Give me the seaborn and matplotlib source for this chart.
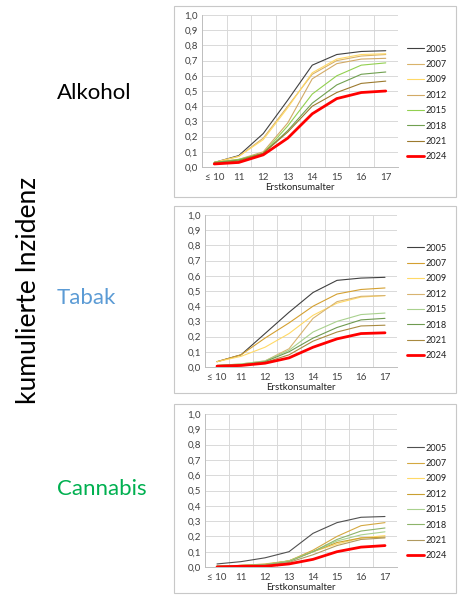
import numpy as np
import pandas as pd
import matplotlib
matplotlib.use("Agg")
import matplotlib.pyplot as plt
from matplotlib.patches import Rectangle
from matplotlib.ticker import FixedLocator
import seaborn as sns

sns.set_style("white")
plt.rcParams['font.family'] = ['Lato', 'DejaVu Sans']

# ---------------- data ----------------
ages = ["≤ 10", "11", "12", "13", "14", "15", "16", "17"]
years = ["2005", "2007", "2009", "2012", "2015", "2018", "2021", "2024"]

alkohol = [
    [0.03, 0.075, 0.22, 0.44, 0.67, 0.74, 0.76, 0.765],
    [0.03, 0.07, 0.19, 0.40, 0.61, 0.70, 0.73, 0.74],
    [0.03, 0.07, 0.18, 0.39, 0.62, 0.71, 0.74, 0.745],
    [0.03, 0.05, 0.10, 0.29, 0.58, 0.68, 0.71, 0.715],
    [0.03, 0.05, 0.09, 0.27, 0.48, 0.60, 0.67, 0.685],
    [0.03, 0.045, 0.09, 0.24, 0.42, 0.54, 0.61, 0.625],
    [0.025, 0.04, 0.09, 0.23, 0.40, 0.49, 0.55, 0.565],
    [0.02, 0.03, 0.08, 0.19, 0.35, 0.45, 0.49, 0.50],
]
tabak = [
    [0.035, 0.08, 0.22, 0.36, 0.49, 0.57, 0.585, 0.59],
    [0.035, 0.08, 0.19, 0.29, 0.40, 0.48, 0.51, 0.52],
    [0.035, 0.07, 0.13, 0.22, 0.34, 0.42, 0.46, 0.47],
    [0.01, 0.02, 0.04, 0.12, 0.32, 0.43, 0.465, 0.47],
    [0.01, 0.02, 0.04, 0.11, 0.23, 0.30, 0.345, 0.355],
    [0.01, 0.015, 0.035, 0.10, 0.19, 0.26, 0.31, 0.32],
    [0.01, 0.015, 0.03, 0.08, 0.17, 0.23, 0.27, 0.275],
    [0.005, 0.01, 0.025, 0.06, 0.13, 0.185, 0.22, 0.225],
]
cannabis = [
    [0.02, 0.035, 0.06, 0.10, 0.22, 0.29, 0.325, 0.33],
    [0.005, 0.01, 0.02, 0.04, 0.11, 0.20, 0.27, 0.29],
    [0.005, 0.01, 0.015, 0.04, 0.10, 0.15, 0.19, 0.205],
    [0.005, 0.01, 0.015, 0.04, 0.10, 0.16, 0.19, 0.195],
    [0.005, 0.01, 0.015, 0.04, 0.10, 0.17, 0.21, 0.23],
    [0.005, 0.01, 0.015, 0.035, 0.10, 0.18, 0.235, 0.255],
    [0.005, 0.005, 0.01, 0.03, 0.08, 0.14, 0.18, 0.19],
    [0.0, 0.005, 0.005, 0.02, 0.05, 0.10, 0.13, 0.14],
]
substances = ["Alkohol", "Tabak", "Cannabis"]
y_ticks = [0.0, 0.1, 0.2, 0.3, 0.4, 0.5, 0.6, 0.7, 0.8, 0.9, 1.0]

# ---------------- styles ----------------
palettes = {
    "Alkohol": ["#404040", "#D9B36A", "#FFD966", "#D2AA66", "#92D050", "#70A050", "#9C7A2E", "#FF0000"],
    "Tabak": ["#404040", "#D4A030", "#FFD966", "#D8B470", "#A9D18E", "#6E9A50", "#A88A40", "#FF0000"],
    "Cannabis": ["#505050", "#D4A840", "#FFD966", "#C9A030", "#A9D18E", "#8DB46A", "#B09A60", "#FF0000"],
}
label_colors = {"Alkohol": "#000000", "Tabak": "#5B9BD5", "Cannabis": "#00B050"}
W, H = 461, 597
panel_boxes = [(174, 6, 456, 197), (174, 206, 456, 393), (174, 404, 456, 593)]
axes_px = [(202, 15, 398, 167), (205, 215, 397, 367), (205, 414, 397, 567)]
legend_px = [(407, 103), (407, 302), (407, 502)]
label_px = [(57, 93), (57, 298), (57, 489)]

fig = plt.figure(figsize=(W / 100, H / 100), dpi=100)

for (x0, y0, x1, y1) in panel_boxes:
    fig.patches.append(Rectangle((x0 / W, 1 - y1 / H), (x1 - x0) / W, (y1 - y0) / H,
                                 transform=fig.transFigure, fill=False,
                                 edgecolor="#C8C8C8", linewidth=0.8))

data_map = {"Alkohol": alkohol, "Tabak": tabak, "Cannabis": cannabis}
pos = np.arange(len(ages))

for i, name in enumerate(substances):
    l, t, r, b = axes_px[i]
    ax = fig.add_axes([l / W, 1 - b / H, (r - l) / W, (b - t) / H])
    vals = data_map[name]
    for j, yr in enumerate(years):
        df = pd.DataFrame({"pos": pos, "val": vals[j]})
        lw = 2.0 if yr == "2024" else 0.8
        sns.lineplot(data=df, x="pos", y="val", color=palettes[name][j],
                     linewidth=lw, label=yr, ax=ax, sort=False)
    ax.set_xlim(-0.5, len(ages) - 0.5)
    ax.set_ylim(0, 1.0)
    ax.set_xticks(pos)
    ax.set_xticklabels(ages)
    ax.xaxis.set_minor_locator(FixedLocator(np.arange(-0.5, len(ages), 1.0)))
    ax.set_yticks(y_ticks)
    ax.set_yticklabels([f"{v:.1f}".replace(".", ",") for v in y_ticks])
    ax.grid(False)
    ax.grid(True, which="minor", axis="x", color="#D9D9D9", linewidth=0.7)
    ax.grid(True, which="major", axis="y", color="#D9D9D9", linewidth=0.7)
    ax.set_axisbelow(True)
    ax.tick_params(axis="both", which="both", length=0, labelsize=7, colors="#404040")
    ax.tick_params(axis="x", pad=4)
    ax.tick_params(axis="y", pad=3)
    ax.set_xlabel("Erstkonsumalter", fontsize=7, color="#202020", labelpad=1)
    ax.set_ylabel("")
    for s in ["top", "right"]:
        ax.spines[s].set_visible(False)
    ax.spines["left"].set_color("#BFBFBF")
    ax.spines["bottom"].set_color("#BFBFBF")
    ax.spines["left"].set_linewidth(0.7)
    ax.spines["bottom"].set_linewidth(0.7)
    lx, ly = legend_px[i]
    leg = ax.legend(loc="center left", bbox_to_anchor=(lx / W, 1 - ly / H),
                    bbox_transform=fig.transFigure, frameon=False, fontsize=6.6,
                    handlelength=1.9, handletextpad=0.15, labelspacing=0.7,
                    borderpad=0, borderaxespad=0)
    for txt in leg.get_texts():
        txt.set_color("#202020")
    tx, ty = label_px[i]
    fig.text(tx / W, 1 - ty / H, name, fontsize=16, color=label_colors[name],
             ha="left", va="center")

fig.text(28 / W, 1 - 290 / H, "kumulierte Inzidenz", fontsize=19, color="#000000",
         rotation=90, ha="center", va="center")

fig.savefig("out.png", dpi=100)
